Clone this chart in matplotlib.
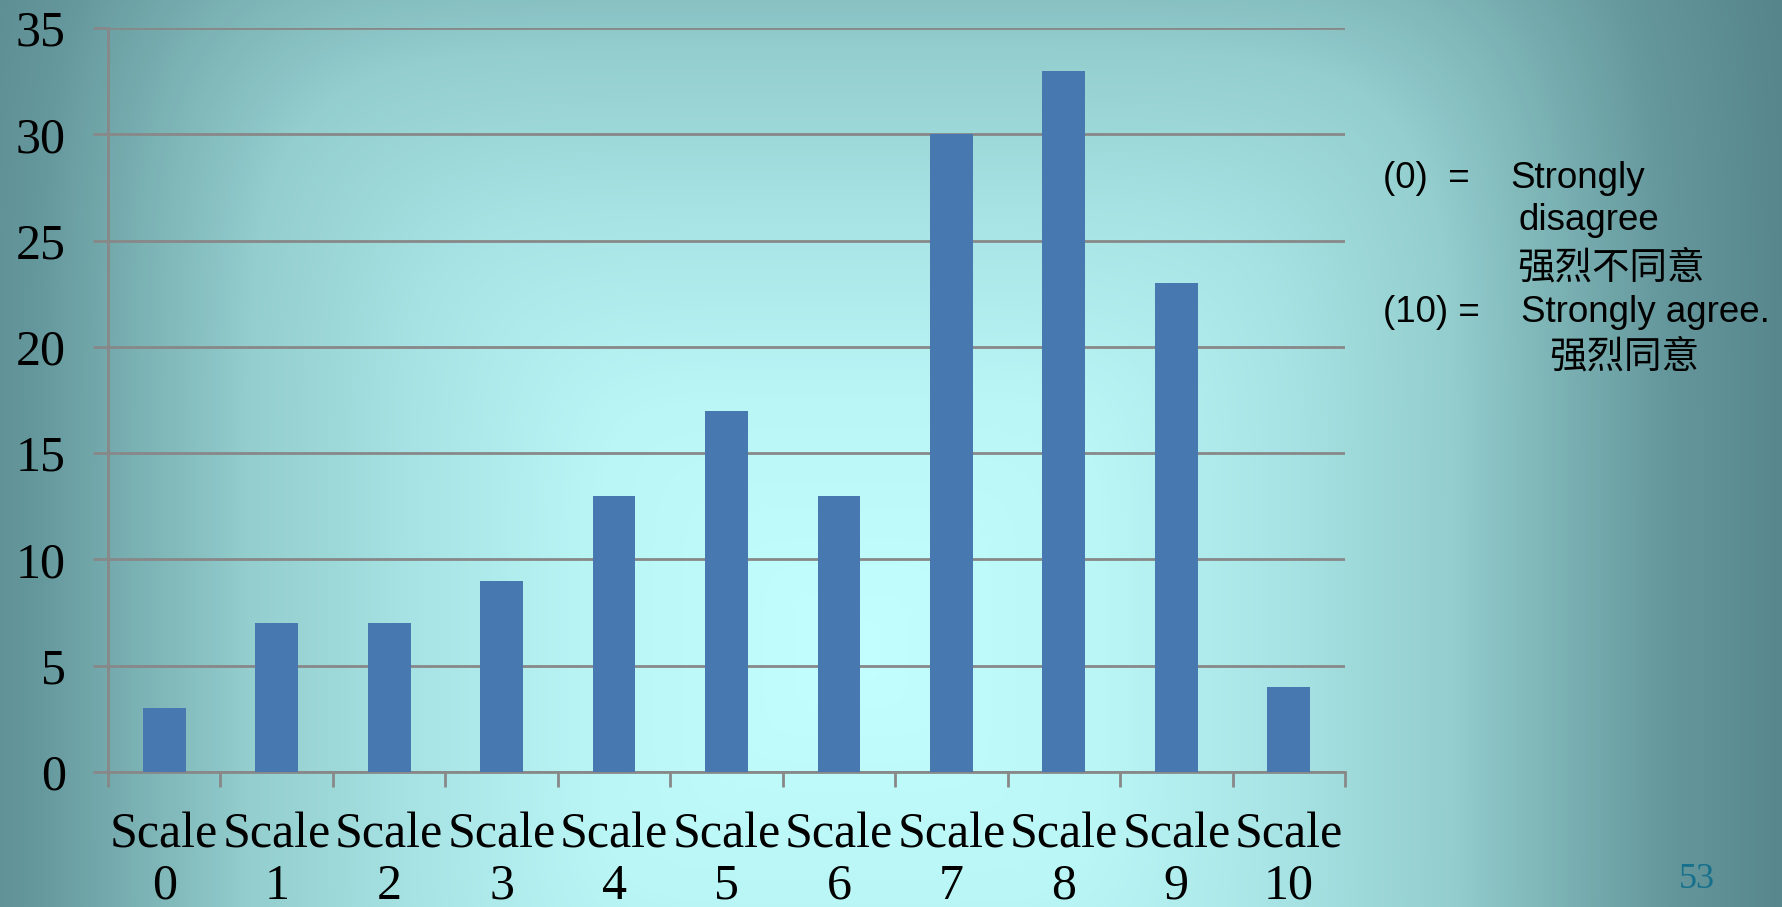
import numpy as np
import matplotlib
matplotlib.use("Agg")
import matplotlib.pyplot as plt
from matplotlib.colors import LinearSegmentedColormap

categories = ["Scale\n0", "Scale\n1", "Scale\n2", "Scale\n3", "Scale\n4", "Scale\n5",
              "Scale\n6", "Scale\n7", "Scale\n8", "Scale\n9", "Scale\n10"]
values = [3, 7, 7, 9, 13, 17, 13, 30, 33, 23, 4]
yticks = [0, 5, 10, 15, 20, 25, 30, 35]

W, H = 1783, 907
fig = plt.figure(figsize=(W / 100, H / 100), dpi=100)

# background "path" gradient
bg = fig.add_axes([0, 0, 1, 1], zorder=-10)
yy, xx = np.mgrid[0:H, 0:W]
cx, cy = 850, 650
p = 6.0
d = (np.abs(xx - cx) ** p + np.abs(yy - cy) ** p) ** (1.0 / p)
dmax = 950.0
stops = [(0, (195, 255, 255)), (250, (186, 246, 246)), (450, (166, 226, 227)),
         (600, (148, 206, 207)), (700, (126, 181, 183)), (820, (100, 151, 156)),
         (950, (86, 133, 139))]
cmap = LinearSegmentedColormap.from_list(
    "bg", [(s / dmax, tuple(c / 255 for c in col)) for s, col in stops])
bg.imshow(np.clip(d / dmax, 0, 1), cmap=cmap, vmin=0, vmax=1, aspect="auto",
          interpolation="bilinear")
bg.axis("off")

ax = fig.add_axes([108 / W, 1 - 772 / H, (1345 - 108) / W, (772 - 28) / H])
ax.set_facecolor("none")
x = np.arange(len(categories))
ax.bar(x, values, width=0.38, color="#4878B0", zorder=3)
ax.set_xlim(-0.5, len(categories) - 0.5)
ax.set_ylim(0, 35)
ax.set_yticks(yticks)
ax.grid(axis="y", color="#888888", linewidth=2, zorder=1)
ax.set_axisbelow(True)
for s in ["top", "right"]:
    ax.spines[s].set_visible(False)
for s in ["left", "bottom"]:
    ax.spines[s].set_color("#888888")
    ax.spines[s].set_linewidth(2)

ax.set_xticks(np.arange(len(categories) + 1) - 0.5, minor=False)
ax.set_xticklabels([])
ax.set_xticks(x, minor=True)
ax.set_xticklabels(categories, minor=True, fontfamily="Liberation Serif",
                   fontsize=36, linespacing=1.12)
ax.tick_params(axis="x", which="major", length=11, width=2, color="#888888", direction="out")
ax.tick_params(axis="x", which="minor", length=0, pad=29)
ax.tick_params(axis="y", length=11, width=2, color="#888888", direction="out", pad=19.5)
for lab in ax.get_yticklabels():
    lab.set_fontfamily("Liberation Serif")
    lab.set_fontsize(36)

fam_s = ["Liberation Sans", "Noto Sans CJK SC"]
fam_c = ["Noto Sans CJK SC"]
def t(xp, yp, s, fam, size=26.5, color="black"):
    fig.text(xp / W, 1 - yp / H, s, family=fam, fontsize=size, color=color,
             ha="left", va="center")

t(1383, 178, "(0)  =", fam_s)
t(1510, 178, "Strongly", fam_s)
t(1519, 221, "disagree", fam_s)
t(1517, 268, "强烈不同意", fam_c, size=27)
t(1383, 312, "(10) =", fam_s)
t(1521, 312, "Strongly agree.", fam_s)
t(1549, 357, "强烈同意", fam_c, size=27)

fig.text(1697 / W, 1 - 880 / H, "53", family="Liberation Serif", fontsize=26,
         color="#16708C", ha="center", va="center")

fig.savefig("out.png", dpi=100)
